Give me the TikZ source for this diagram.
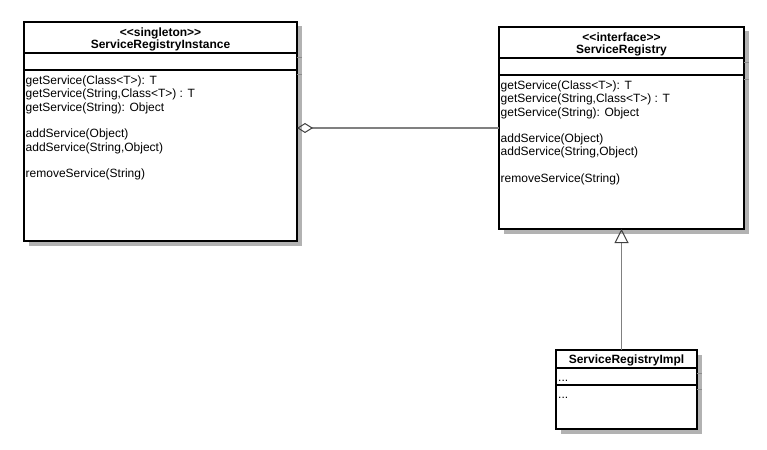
\documentclass[tikz,border=0pt]{standalone}
\usepackage{fontspec}
\setmainfont[Ligatures=NoCommon]{Liberation Sans}
\usetikzlibrary{arrows.meta}
\definecolor{shadowgray}{RGB}{178,178,178}
\definecolor{shadowline}{RGB}{140,140,140}
\definecolor{linegray}{RGB}{128,128,128}
\begin{document}
\begin{tikzpicture}[x=1pt,y=-1pt,
  classbox/.style={draw=black, line width=2pt, fill=white, rectangle, inner sep=0pt, outer sep=0pt},
  boxshadow/.style={fill=shadowgray},
  divider/.style={draw=black, line width=2pt},
  divshadow/.style={draw=shadowline, line width=1pt},
  head/.style={font=\fontsize{12}{13.3}\selectfont\bfseries, inner sep=0pt, anchor=base},
  member/.style={font=\fontsize{12}{13.3}\selectfont, inner sep=0pt, anchor=base west},
  conn/.style={draw=linegray, line width=1.5pt},
  agg/.style={conn, {Diamond[open, length=16pt, width=10pt, line width=1pt, color=black!75]}-},
  gen/.style={conn, -{Triangle[open, length=14pt, width=14pt, line width=1pt, color=black!75]}},
]
\useasboundingbox (0,0) rectangle (767,449);

% ---------- shadows ----------
\fill[boxshadow] (28.5,26.5) rectangle (301.5,245.5);
\fill[boxshadow] (503.5,31.5) rectangle (748.5,233.5);
\fill[boxshadow] (561,354.5) rectangle (701.5,433.5);

% ---------- ServiceRegistryInstance ----------
\node[classbox, minimum width=273pt, minimum height=219pt] (sri) at (160.5,131.5) {};
\draw[divshadow] (297,57.5) -- (302,57.5);
\draw[divshadow] (297,74.5) -- (302,74.5);
\draw[divider] (sri.west |- 0,53) -- (sri.east |- 0,53);
\draw[divider] (sri.west |- 0,70.5) -- (sri.east |- 0,70.5);
\node[head] (sri-st) at (160.5,36.5) {{<}{<}singleton{>}{>}};
\node[head] (sri-nm) at (160.5,49) {ServiceRegistryInstance};
\node[member] (sri-m1) at (25.5,84.5) {getService(Class{<}T{>}): T};
\node[member] (sri-m2) at (25.5,97.8) {getService(String,Class{<}T{>}) : T};
\node[member] (sri-m3) at (25.5,111.1) {getService(String): Object};
\node[member] (sri-m4) at (25.5,137.7) {addService(Object)};
\node[member] (sri-m5) at (25.5,151) {addService(String,Object)};
\node[member] (sri-m6) at (25.5,177.6) {removeService(String)};

% ---------- ServiceRegistry ----------
\node[classbox, minimum width=245pt, minimum height=202pt] (sr) at (621.5,128) {};
\draw[divshadow] (744,62.5) -- (749,62.5);
\draw[divshadow] (744,79.5) -- (749,79.5);
\draw[divider] (sr.west |- 0,58) -- (sr.east |- 0,58);
\draw[divider] (sr.west |- 0,75) -- (sr.east |- 0,75);
\node[head] (sr-st) at (621.5,41.5) {{<}{<}interface{>}{>}};
\node[head] (sr-nm) at (621.5,54) {ServiceRegistry};
\node[member] (sr-m1) at (500.5,89.5) {getService(Class{<}T{>}): T};
\node[member] (sr-m2) at (500.5,102.8) {getService(String,Class{<}T{>}) : T};
\node[member] (sr-m3) at (500.5,116.1) {getService(String): Object};
\node[member] (sr-m4) at (500.5,142.7) {addService(Object)};
\node[member] (sr-m5) at (500.5,156) {addService(String,Object)};
\node[member] (sr-m6) at (500.5,182.6) {removeService(String)};

% ---------- ServiceRegistryImpl ----------
\node[classbox, minimum width=140.5pt, minimum height=79pt] (impl) at (626.5,389.5) {};
\draw[divshadow] (697,373) -- (702,373);
\draw[divshadow] (697,389.5) -- (702,389.5);
\draw[divider] (impl.west |- 0,368.3) -- (impl.east |- 0,368.3);
\draw[divider] (impl.west |- 0,385) -- (impl.east |- 0,385);
\node[head] (impl-nm) at (626.5,363.3) {ServiceRegistryImpl};
\node[member] (impl-a) at (558,381.5) {...};
\node[member] (impl-o) at (558,398.5) {...};

% ---------- connectors ----------
\coordinate (gtip) at (sr.south -| 621.5,0);
\draw[agg] (sr.west -| sri.east) -- (sr.west);
\draw[gen] (impl.north -| gtip) -- (gtip);
\end{tikzpicture}
\end{document}
